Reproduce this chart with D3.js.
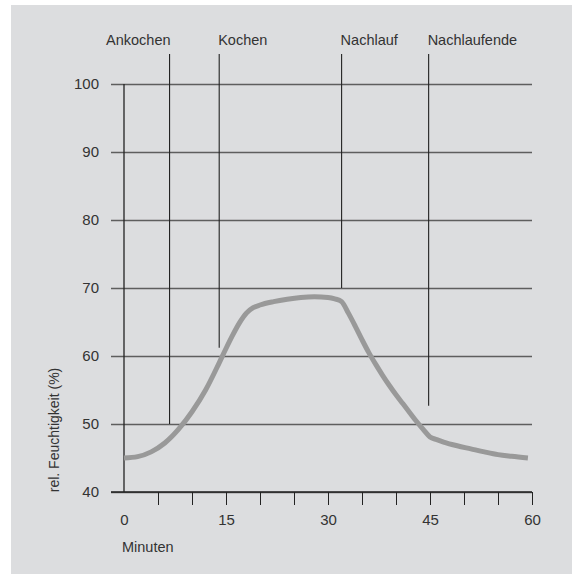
<!DOCTYPE html>
<html>
<head>
<meta charset="utf-8">
<script src="https://cdn.jsdelivr.net/npm/d3@7"></script>
<style>
  body { margin: 0; background: #fff; }
  svg text { font-family: "Liberation Sans", Arial, sans-serif; fill: #333; }
</style>
</head>
<body>
<svg id="figure"></svg>
<script>
var fullWidth = 572;
var fullHeight = 574;

// curve
var minutes  = [0, 2, 4, 6, 8, 10, 12, 14, 15, 16, 17, 18, 19, 20, 22, 24, 26, 28, 30, 31, 32, 33, 34, 35, 36, 37, 38, 39, 40, 41, 42, 43, 44, 45, 46, 47, 49, 51, 53, 55, 57, 59.4];
var humidity = [45.0, 45.2, 45.9, 47.2, 49.2, 51.8, 55.0, 59.0, 61.1, 63.1, 64.9, 66.3, 67.1, 67.5, 68.0, 68.35, 68.6, 68.7, 68.6, 68.4, 68.0, 66.3, 64.4, 62.4, 60.5, 58.8, 57.2, 55.7, 54.3, 53.0, 51.7, 50.4, 49.2, 48.1, 47.7, 47.35, 46.8, 46.35, 45.9, 45.5, 45.25, 45.0];

// phase markers
var phaseNames = ["Ankochen", "Kochen", "Nachlauf", "Nachlaufende"];
var phaseTimes = [6.7, 14, 32, 44.8];
var phaseEnds  = [50, 61.2, 70, 52.7];

var yTicks = [40, 50, 60, 70, 80, 90, 100];
var xLabelTicks = [0, 15, 30, 45, 60];
var xMinorTicks = [5, 10, 15, 20, 25, 30, 35, 40, 45, 50, 55, 60];

var svg = d3.select("#figure")
    .attr("width", fullWidth)
    .attr("height", fullHeight);

svg.append("rect")
    .attr("x", 11).attr("y", 5)
    .attr("width", fullWidth - 11).attr("height", fullHeight - 5)
    .attr("fill", "#dcdddf");

var xRange = d3.scaleLinear().domain([0, 60]).range([124, 532]);
var yRange = d3.scaleLinear().domain([40, 100]).range([492, 84]);

// horizontal grid + y labels
var gridLeft = 111;
var yAxis = d3.axisLeft(yRange)
    .tickValues(yTicks)
    .tickSize(-(xRange(60) - gridLeft))
    .tickPadding(12);

var gy = svg.append("g")
    .attr("transform", "translate(" + gridLeft + ",0)")
    .call(yAxis);
gy.select(".domain").remove();
gy.selectAll(".tick line").attr("stroke", "#5e5e5e").attr("stroke-width", 1.3);
gy.selectAll(".tick text").style("font-size", "15px").attr("fill", "#333");

// x ticks downward
var xAxis = d3.axisBottom(xRange)
    .tickValues(xMinorTicks)
    .tickSize(13)
    .tickFormat("");
var gx = svg.append("g")
    .attr("transform", "translate(0," + yRange(40) + ")")
    .call(xAxis);
gx.select(".domain").remove();
gx.selectAll(".tick line").attr("stroke", "#222");

svg.append("line")
    .attr("x1", gridLeft).attr("x2", xRange(60))
    .attr("y1", yRange(40)).attr("y2", yRange(40))
    .attr("stroke", "#222").attr("stroke-width", 1.5);

var xLabels = d3.axisBottom(xRange)
    .tickValues(xLabelTicks)
    .tickSize(0)
    .tickPadding(22);
var gxl = svg.append("g")
    .attr("transform", "translate(0," + yRange(40) + ")")
    .call(xLabels);
gxl.select(".domain").remove();
gxl.selectAll(".tick text").style("font-size", "15px").attr("fill", "#333");

// y axis line
svg.append("line")
    .attr("x1", xRange(0)).attr("x2", xRange(0))
    .attr("y1", yRange(100)).attr("y2", yRange(40))
    .attr("stroke", "#222").attr("stroke-width", 1.3);

// phase markers
phaseNames.forEach(function (name, i) {
    svg.append("line")
        .attr("x1", xRange(phaseTimes[i])).attr("x2", xRange(phaseTimes[i]))
        .attr("y1", 54).attr("y2", yRange(phaseEnds[i]))
        .attr("stroke", "#222").attr("stroke-width", 1.1);
    svg.append("text")
        .text(name)
        .attr("x", xRange(phaseTimes[i]) + (i == 0 ? 1 : -1))
        .attr("y", 45)
        .attr("text-anchor", i == 0 ? "end" : "start")
        .style("font-size", "14.5px");
});

// humidity curve
var pts = minutes.map(function (m, i) { return {t: m, v: humidity[i]}; });
var line = d3.line()
    .x(function (d) { return xRange(d.t); })
    .y(function (d) { return yRange(d.v); })
    .curve(d3.curveMonotoneX)(pts);

svg.append("path")
    .attr("d", line)
    .attr("fill", "none")
    .attr("stroke", "#999")
    .attr("stroke-width", 5);

svg.append("text").text("Minuten")
    .attr("x", 122).attr("y", 552)
    .style("font-size", "14.5px");

svg.append("text").text("rel. Feuchtigkeit (%)")
    .attr("transform", "translate(59," + 430 + ") rotate(-90)")
    .attr("text-anchor", "middle")
    .style("font-size", "14px");
</script>
</body>
</html>
